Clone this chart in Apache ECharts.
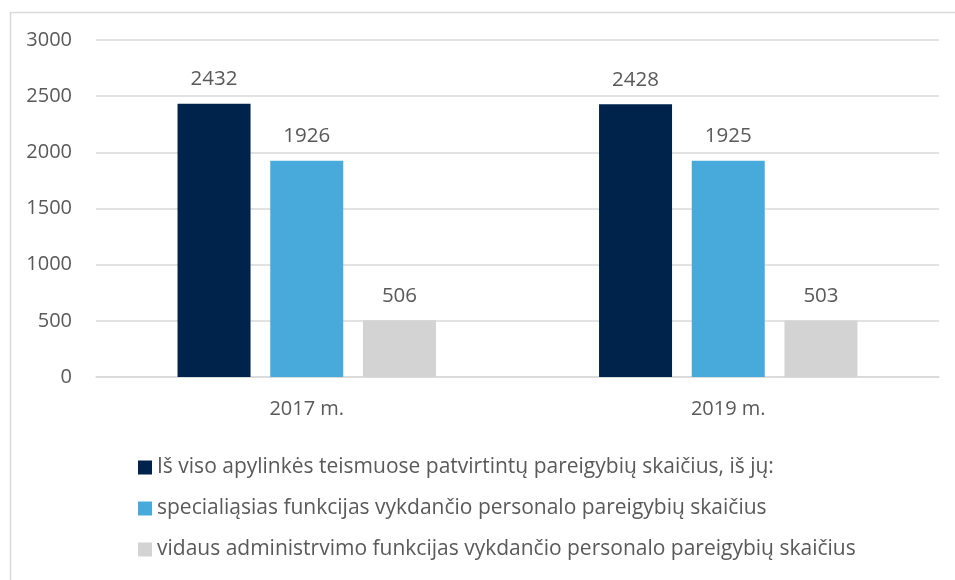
<!DOCTYPE html>
<html><head><meta charset="utf-8">
<script src="https://cdn.jsdelivr.net/npm/echarts@6/dist/echarts.min.js"></script>
<style>html,body{margin:0;padding:0;background:#fff}#c{width:955px;height:580px}</style>
</head><body><div id="c"></div>
<script>
const categories = ['2017 m.', '2019 m.'];
const seriesNames = [
  'Iš viso apylinkės teismuose patvirtintų pareigybių skaičius, iš jų:',
  'specialiąsias funkcijas vykdančio personalo pareigybių skaičius',
  'vidaus administrvimo funkcijas vykdančio personalo pareigybių skaičius'
];
const totalValues = [2432, 2428];
const specialValues = [1926, 1925];
const adminValues = [506, 503];
const yTicks = [0, 500, 1000, 1500, 2000, 2500, 3000];
const colors = ['#00234b', '#47aadb', '#d3d3d3'];

const font = '"Open Sans", "Liberation Sans", sans-serif';
const txt = '#595959';
const chart = echarts.init(document.getElementById('c'));
const vals = [totalValues, specialValues, adminValues];
chart.setOption({
  animation: false,
  textStyle: { fontFamily: font },
  graphic: [{
    type: 'rect', left: 8, top: 10,
    shape: { width: 960, height: 580 },
    style: { fill: 'none', stroke: '#d9d9d9', lineWidth: 1.5 }
  }],
  grid: { left: 96, right: 16, top: 40, bottom: 203 },
  legend: {
    orient: 'vertical', left: 133, top: 449,
    itemWidth: 14, itemHeight: 14, itemGap: 14,
    icon: 'rect',
    textStyle: { color: txt, fontSize: 21, fontFamily: font, lineHeight: 27 },
    data: seriesNames
  },
  xAxis: {
    type: 'category', data: categories,
    axisLine: { lineStyle: { color: '#d9d9d9', width: 1.5 } },
    axisTick: { show: false },
    axisLabel: { color: txt, fontSize: 20, margin: 22 }
  },
  yAxis: {
    type: 'value', min: yTicks[0], max: yTicks[yTicks.length - 1], interval: 500,
    axisLine: { show: false }, axisTick: { show: false },
    splitLine: { lineStyle: { color: '#d9d9d9', width: 1.5 } },
    axisLabel: { color: txt, fontSize: 20, margin: 24, formatter: v => String(v) }
  },
  series: seriesNames.map((n, i) => ({
    name: n, type: 'bar', data: vals[i],
    barWidth: 73, barGap: '27%',
    itemStyle: { color: colors[i] },
    label: { show: true, position: 'top', distance: 14, color: txt, fontSize: 20.5, fontFamily: font }
  }))
});
</script></body></html>
